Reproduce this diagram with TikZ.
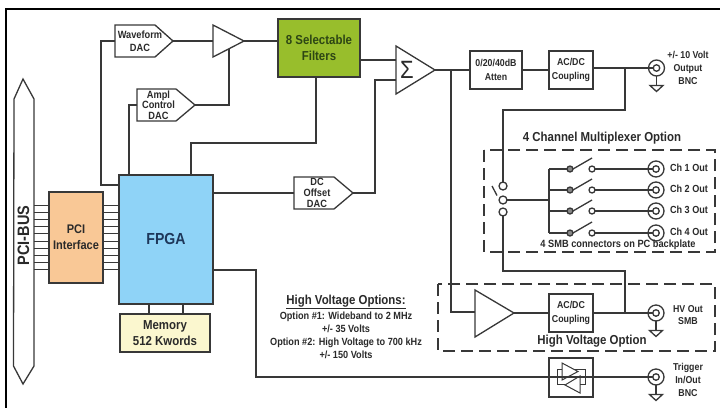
\documentclass[tikz,border=0pt]{standalone}
\usepackage{fontspec}
\setmainfont[FakeStretch=0.88]{Liberation Sans}
\usetikzlibrary{calc}
\definecolor{ln}{HTML}{383838}
\definecolor{txt}{HTML}{2A2A2A}
\tikzset{
  wire/.style={draw=ln,line width=1.3pt},
  blk/.style={draw=ln,line width=1.4pt,rectangle,inner sep=0pt,outer sep=0pt,align=center,font=\bfseries\fontsize{9.5}{13}\selectfont,text=txt},
  shapeout/.style={draw=ln,line width=1.3pt,fill=white,line join=miter},
  lab/.style={inner sep=0pt,align=center,text=txt,font=\bfseries\fontsize{10.5}{12.5}\selectfont},
  dashbox/.style={draw=ln,line width=1.4pt,dash pattern=on 12pt off 6pt},
  outer ring/.style={circle,draw=ln,line width=1.3pt,fill=white,minimum size=16pt,inner sep=0pt,outer sep=0pt},
  inner ring/.style={circle,draw=ln,line width=1.3pt,fill=white,minimum size=6.5pt,inner sep=0pt,outer sep=0pt},
  pad/.style={circle,draw=ln,line width=1.3pt,fill=white,minimum size=8pt,inner sep=0pt,outer sep=0pt},
  contactA/.style={circle,draw=ln,line width=1.3pt,fill=ln!60,minimum size=6pt,inner sep=0pt,outer sep=0pt},
  contactB/.style={circle,draw=ln,line width=1.3pt,fill=white,minimum size=6pt,inner sep=0pt,outer sep=0pt},
}
% connector symbol: name, x, y
\newcommand{\connsym}[3]{%
  \node[outer ring] (#1) at (#2,#3) {};
  \node[inner ring] (#1i) at (#2,#3) {};
}
% ground under a connector: name
\newcommand{\gndsym}[1]{%
  \draw[wire] (#1.south) -- ++(0,9.5) coordinate (#1g);
  \draw[wire,line join=miter] ($(#1g)+(-6.5,0)$) -- ($(#1g)+(6.5,0)$) -- ($(#1g)+(0,6)$) -- cycle;
}
% DAC outline: name, left, right, shoulder, top, bottom
\newcommand{\dacsym}[6]{%
  \draw[shapeout] (#2,#5) -- (#4,#5) -- (#3,{(#5+#6)/2}) coordinate (#1tip) -- (#4,#6) -- (#2,#6) -- cycle;
  \path (#2,{(#5+#6)/2}) coordinate (#1in);
}
\begin{document}
\begin{tikzpicture}[x=1pt,y=-1pt]
\useasboundingbox (0,0) rectangle (720,408);
\fill[white] (0,0) rectangle (720,408);
\draw[black,line width=2pt] (720,9) -- (5.5,9) -- (5.5,408);

% PCI bus arrow
\draw[shapeout] (23,79) -- (34,99) -- (34,366) -- (23,384) -- (13.5,366) -- (14,99) -- cycle;
\node[minimum width=20pt,minimum height=260pt,inner sep=0pt,outer sep=0pt] (bus) at (24,232) {};
\node[lab,rotate=90,font=\bfseries\fontsize{16.5}{18}\selectfont] (buslab) at (23.5,235.5) {PCI-BUS};

% main blocks
\node[blk,fill={rgb,255:red,249;green,200;blue,150},minimum width=54pt,minimum height=91pt,font=\bfseries\fontsize{12.5}{16}\selectfont] (pci) at (76,237.5) {PCI\\Interface};
\node[blk,fill={rgb,255:red,143;green,211;blue,247},minimum width=94pt,minimum height=129pt] (fpga) at (166,239.5) {};
\node[lab,font=\bfseries\fontsize{16}{18}\selectfont,text={rgb,255:red,30;green,55;blue,90}] (fpgalab) at (166,239) {FPGA};
\node[blk,fill={rgb,255:red,251;green,247;blue,207},minimum width=90pt,minimum height=38pt,font=\bfseries\fontsize{13}{16}\selectfont] (mem) at (165,333) {Memory\\512 Kwords};
\node[blk,fill={rgb,255:red,152;green,190;blue,44},minimum width=82pt,minimum height=58pt,font=\bfseries\fontsize{13}{15.5}\selectfont,text={rgb,255:red,45;green,70;blue,20}] (filt) at (319,48) {8 Selectable\\Filters};
\node[blk,minimum width=52pt,minimum height=38pt,font=\bfseries\fontsize{10}{14}\selectfont] (atten) at (496,70) {0/20/40dB\\Atten};
\node[blk,minimum width=44pt,minimum height=38pt,font=\bfseries\fontsize{10}{13.5}\selectfont] (ac1) at (571,70) {AC/DC\\Coupling};
\node[blk,minimum width=44pt,minimum height=38pt,font=\bfseries\fontsize{10}{13.5}\selectfont] (ac2) at (571,313) {AC/DC\\Coupling};
\node[blk,minimum width=44pt,minimum height=39pt] (buf) at (571,377.5) {};

% bus stripes
\foreach \i in {0,...,9} {
  \pgfmathsetmacro{\yy}{205+7.2*\i}
  \draw[draw=ln,line width=1pt] (bus.east |- 0,\yy) -- (pci.west |- 0,\yy);
  \draw[draw=ln,line width=1pt] (pci.east |- 0,\yy) -- (fpga.west |- 0,\yy);
}

% DACs
\dacsym{wf}{115}{173}{155}{25}{57}
\node[lab,font=\bfseries\fontsize{10.5}{13.5}\selectfont] (wflab) at (140,41) {Waveform\\DAC};
\dacsym{am}{137}{195}{176}{89}{121}
\node[lab,font=\bfseries\fontsize{10.5}{10.7}\selectfont] (amlab) at (158.5,105) {Ampl\\Control\\DAC};
\dacsym{dc}{294}{353}{334}{177}{209}
\node[lab,font=\bfseries\fontsize{10.5}{11}\selectfont] (dclab) at (317,193) {DC\\Offset\\DAC};

% amplifiers
\draw[shapeout] (213,25) -- (244,41) coordinate (amptip) -- (213,57) -- cycle;
\coordinate (ampin) at (213,41);
\coordinate (ampctl) at (229,49);
\draw[shapeout] (396,46) -- (435,70) coordinate (sumtip) -- (396,94) -- cycle;
\coordinate (sumA) at (396,60);
\coordinate (sumB) at (396,80);
\node[lab,font=\fontsize{25}{25}\selectfont] (sigma) at (407,70) {Σ};
\draw[shapeout] (475,290) -- (514,313) coordinate (hvtip) -- (475,337) -- cycle;
\coordinate (hvin) at (475,312);

% left-hand wiring
\draw[wire] (wfin) -- (101,41) -- (101,185) -- (fpga.west |- 0,185);
\draw[wire] (wftip) -- (ampin);
\draw[wire] (amptip) -- (filt.west |- amptip);
\draw[wire] (amin) -- (129,105) -- (fpga.north -| 129,0);
\draw[wire] (amtip) -- (229,105) -- (ampctl);
\draw[wire] (filt.south -| 316,0) -- (316,143) -- (191,143) -- (fpga.north -| 191,0);
\draw[wire] (filt.east |- sumA) -- (sumA);
\draw[wire] (fpga.east |- dcin) -- (dcin);
\draw[wire] (dctip) -- (375,193) -- (375,80) -- (sumB);
\draw[wire] (fpga.south -| 149,0) -- (mem.north -| 149,0);
\draw[wire] (fpga.south -| 183,0) -- (mem.north -| 183,0);

% output chain
\connsym{o}{656.5}{68}
\gndsym{o}
\draw[wire] (sumtip) -- (atten.west);
\draw[wire] (atten.east) -- (ac1.west);
\draw[wire] (ac1.east |- o) -- (oi.west);
\node[lab,font=\bfseries\fontsize{10}{13}\selectfont] (olab) at (688,68) {+/- 10 Volt\\Output\\BNC};

% multiplexer
\draw[dashbox] (484,150) rectangle (715,252);
\node[lab,font=\bfseries\fontsize{13}{14}\selectfont] (muxt) at (602,138) {4 Channel Multiplexer Option};
\node[pad] (pa) at (503,186) {};
\node[pad] (pb) at (503,200) {};
\node[pad] (pc) at (503,212) {};
\draw[wire] (625,68) -- (625,110) -- (503,110) -- (pa.north);
\draw[wire] (492,186) -- (497,195.5);
\coordinate (split) at (549,200);
\draw[wire] (pb.east) -- (split);
\foreach \n/\yy in {1/169,2/190,3/211,4/233} {
  \node[contactA] (ca\n) at (570,\yy) {};
  \node[contactB] (cb\n) at (592,\yy) {};
  \connsym{c\n}{656}{\yy}
  \draw[wire] (split |- ca\n) -- (ca\n.west);
  \draw[wire] (ca\n.east) -- ($(cb\n)+(0,-11)$);
  \draw[wire] (cb\n.east) -- (c\n i.west);
  \node[lab,font=\bfseries\fontsize{10.3}{11}\selectfont] (cl\n) at (689,\yy-1) {Ch \n\ Out};
}
\draw[wire] (split |- ca1) -- (split |- ca4);
\node[lab,font=\bfseries\fontsize{10.5}{11}\selectfont] (smb) at (618,245) {4 SMB connectors on PC backplate};

% high voltage path
\draw[dashbox] (438,284) rectangle (715,351);
\node[lab,font=\bfseries\fontsize{13}{15}\selectfont] (hvt) at (592,341) {High Voltage Option};
\connsym{h}{656}{313}
\gndsym{h}
\draw[wire] (451,70) -- (451,312) -- (hvin);
\draw[wire] (hvtip) -- (ac2.west);
\draw[wire] (ac2.east |- h) -- (hi.west);
\draw[wire] (pc.south) -- (503,271) -- (625,271) -- (625,313);
\node[lab,font=\bfseries\fontsize{10}{12.5}\selectfont] (hl) at (688,315) {HV Out\\SMB};

% trigger
\connsym{t}{656}{377}
\gndsym{t}
\draw[wire] (fpga.east |- 0,270) -- (256,270) -- (256,377) -- (ti.west);
\draw[ln,line width=1pt] (562,363) -- (578,371.5) -- (562,380) -- cycle;
\draw[ln,line width=1pt] (580,376) -- (565,385) -- (580,393) -- cycle;
\draw[ln,line width=1pt] (562,369.5) -- (557,369.5) -- (557,384) -- (565,384);
\draw[ln,line width=1pt] (575,369.5) -- (585,369.5) -- (585,384) -- (580,384);
\node[lab,font=\bfseries\fontsize{10}{12.7}\selectfont] (tl) at (688,380) {Trigger\\In/Out\\BNC};

% options text
\node[lab,font=\bfseries\fontsize{10.4}{13}\selectfont] (opts) at (346,335.5) {Option \#1: Wideband to 2 MHz\\+/- 35 Volts\\Option \#2: High Voltage to 700 kHz\\+/- 150 Volts};
\node[lab,font=\bfseries\fontsize{13}{14}\selectfont] (optt) at (346,302) {\underline{High Voltage Options:}};
\end{tikzpicture}
\end{document}
